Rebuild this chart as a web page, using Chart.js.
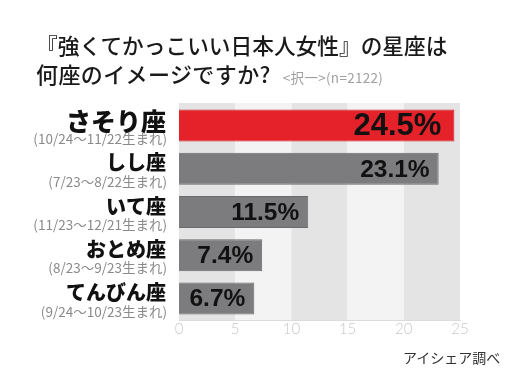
<!DOCTYPE html>
<html><head><meta charset="utf-8">
<script src="https://cdn.jsdelivr.net/npm/chart.js@4"></script>
<style>
html,body{margin:0;padding:0;background:#fff;}
#wrap{position:relative;width:519px;height:381px;overflow:hidden;}
#c{position:absolute;left:0;top:0;}
.t{position:absolute;font-family:"Noto Sans CJK JP";color:#1a1a1a;white-space:nowrap;}
#t1{left:36px;top:29px;font-size:21.7px;font-weight:500;}
#t2{left:36px;top:57px;font-size:22px;font-weight:500;letter-spacing:0.4px;}
#t2 span{font-size:13.5px;color:#a0a0a0;font-weight:400;margin-left:12px;letter-spacing:0.3px;}
#src{left:403px;top:347px;font-size:14px;color:#333;}
</style></head>
<body><div id="wrap">
<canvas id="c" width="519" height="381"></canvas>
<div class="t" id="t1">『強くてかっこいい日本人女性』の星座は</div>
<div class="t" id="t2">何座のイメージですか?<span>&lt;択一&gt;(n=2122)</span></div>
<div class="t" id="src">アイシェア調べ</div>
</div>
<script>
const categories = ["さそり座","しし座","いて座","おとめ座","てんびん座"];
const periods = ["(10/24〜11/22生まれ)","(7/23〜8/22生まれ)","(11/23〜12/21生まれ)","(8/23〜9/23生まれ)","(9/24〜10/23生まれ)"];
const values = [24.5, 23.1, 11.5, 7.4, 6.7];
const xTicks = [0,5,10,15,20,25];

const stripes = {
  id:'stripes',
  beforeDraw(chart){
    const {ctx, chartArea:a, scales:{x}} = chart;
    ctx.save();
    for(let i=0;i<xTicks.length-1;i++){
      const x0 = x.getPixelForValue(xTicks[i]), x1 = x.getPixelForValue(xTicks[i+1]);
      ctx.fillStyle = (i%2===0) ? '#e4e4e4' : '#f3f3f3';
      ctx.fillRect(x0, a.top-1, x1-x0, a.bottom-a.top+1);
    }
    ctx.restore();
  }
};
const labels = {
  id:'labels',
  afterDatasetsDraw(chart){
    const {ctx, scales:{y}} = chart;
    const meta = chart.getDatasetMeta(0);
    ctx.save();
    meta.data.forEach((el,i)=>{
      ctx.fillStyle='#111';
      ctx.textAlign='right'; ctx.textBaseline='middle';
      ctx.font = (i===0?'bold 31px':'bold 24.5px')+' "Liberation Sans"';
      ctx.fillText(values[i].toFixed(1)+'%', el.x-(i===0?13:9), el.y+1);
    });
    categories.forEach((c,i)=>{
      const cy = y.getPixelForValue(i);
      ctx.textAlign='right'; ctx.textBaseline='middle';
      ctx.fillStyle='#111';
      ctx.font = (i===0?'900 25px':'900 20px')+' "Noto Sans CJK JP"';
      ctx.fillText(c, 166, cy-(i===0?4:6));
      ctx.fillStyle='#8a8a8a';
      ctx.font = '13.5px "Noto Sans CJK JP"';
      ctx.fillText(periods[i], 167, cy+13);
    });
    ctx.restore();
  }
};

new Chart(document.getElementById('c'),{
  type:'bar',
  data:{labels:categories,datasets:[{
    data:values,
    backgroundColor:values.map((v,i)=>i===0?'#e5222a':'#7c7c7f'),
    borderColor:values.map((v,i)=>i===0?'#d01c23':'#6a6a6c'),
    borderWidth:1,
    barPercentage:0.74,categoryPercentage:1
  }]},
  options:{
    indexAxis:'y',responsive:false,animation:false,
    layout:{padding:{left:179,right:59,top:104,bottom:43}},
    plugins:{legend:{display:false},tooltip:{enabled:false},title:{display:false}},
    scales:{
      y:{display:false},
      x:{min:0,max:25,
        ticks:{stepSize:5,color:'#c9c9c9',font:{family:'Lato',size:15,weight:'300'},padding:0},
        grid:{display:false,drawTicks:false,tickLength:0},border:{display:true,color:'#dcdcdc'}}
    }
  },
  plugins:[stripes,labels]
});
</script>
</body></html>
